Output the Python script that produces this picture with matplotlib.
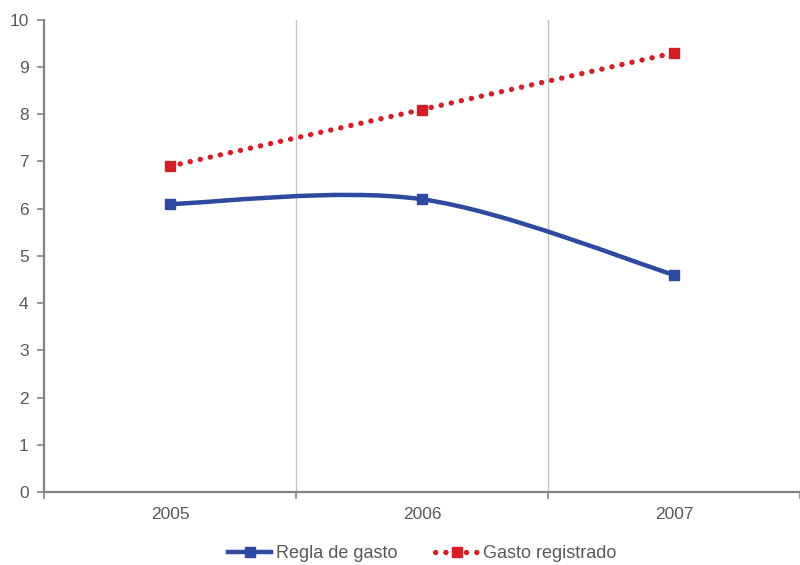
import matplotlib

matplotlib.use("Agg")
import matplotlib.pyplot as plt  # noqa: E402
import numpy as np  # noqa: E402
from matplotlib.lines import Line2D  # noqa: E402
from matplotlib.patches import PathPatch  # noqa: E402
from matplotlib.path import Path  # noqa: E402

years = ["2005", "2006", "2007"]
regla_gasto = [6.1, 6.2, 4.6]
gasto_registrado = [6.9, 8.1, 9.3]

BLUE = "#2d4aa0"
RED = "#d41f26"
TEXT = "#595959"
AXIS = "#858585"

plt.rcParams["font.family"] = ["Liberation Sans", "DejaVu Sans"]


def smooth_path(xs, ys, tension=1.0 / 6.0):
    """Bezier path through the points, tangents taken from neighbouring points."""
    pts = np.column_stack([xs, ys]).astype(float)
    n = len(pts)
    verts = [pts[0]]
    codes = [Path.MOVETO]
    for i in range(n - 1):
        p_prev = pts[max(i - 1, 0)]
        p0 = pts[i]
        p1 = pts[i + 1]
        p_next = pts[min(i + 2, n - 1)]
        c1 = p0 + (p1 - p_prev) * tension
        c2 = p1 - (p_next - p0) * tension
        verts += [c1, c2, p1]
        codes += [Path.CURVE4] * 3
    return Path(verts, codes)


fig = plt.figure(figsize=(8.0, 5.65), dpi=100)
ax = fig.add_axes([0.055, 0.129, 0.945, 0.836])

x = np.arange(len(years))

# vertical separators between categories
for b in x[:-1] + 0.5:
    ax.axvline(b, color="#c4c4c4", linewidth=1.0, zorder=0)

ax.add_patch(PathPatch(smooth_path(x, regla_gasto), facecolor="none",
                       edgecolor=BLUE, linewidth=3.2, capstyle="round", zorder=3))
ax.plot(x, regla_gasto, linestyle="none", marker="s", markersize=6.5,
        color=BLUE, zorder=4)

dotted = (0, (0.05, 1.9))
ax.plot(x, gasto_registrado, color=RED, linewidth=3.8, linestyle=dotted,
        dash_capstyle="round", zorder=3)
ax.plot(x, gasto_registrado, linestyle="none", marker="s", markersize=7,
        color=RED, zorder=4)

ax.set_xlim(-0.5, 2.5)
ax.set_ylim(0, 10)
ax.set_yticks(range(0, 11))
ax.set_xticks(x)
ax.set_xticklabels(years)
ax.set_xticks(np.arange(-0.5, 3.0, 1.0), minor=True)
ax.tick_params(axis="x", which="major", length=0, pad=11, labelsize=12.5, labelcolor=TEXT)
ax.tick_params(axis="x", which="minor", length=5, width=1.2, color=AXIS, direction="out")
ax.tick_params(axis="y", length=5, width=1.2, color=AXIS, pad=6, labelsize=12.5,
               labelcolor=TEXT)

for side in ("top", "right"):
    ax.spines[side].set_visible(False)
for side in ("left", "bottom"):
    ax.spines[side].set_color(AXIS)
    ax.spines[side].set_linewidth(1.6)

handles = [
    Line2D([], [], color=BLUE, linewidth=3.2, marker="s", markersize=6.5),
    Line2D([], [], color=RED, linewidth=3.8, linestyle=dotted,
           dash_capstyle="round", marker="s", markersize=7),
]
leg = fig.legend(handles, ["Regla de gasto", "Gasto registrado"], loc="center",
                 bbox_to_anchor=(0.528, 0.02), ncol=2, frameon=False, fontsize=13,
                 handlelength=2.4, handletextpad=0.25, columnspacing=2.1,
                 borderaxespad=0.0, borderpad=0.0)
for t in leg.get_texts():
    t.set_color(TEXT)

fig.savefig("out.png", dpi=100)
plt.close(fig)
